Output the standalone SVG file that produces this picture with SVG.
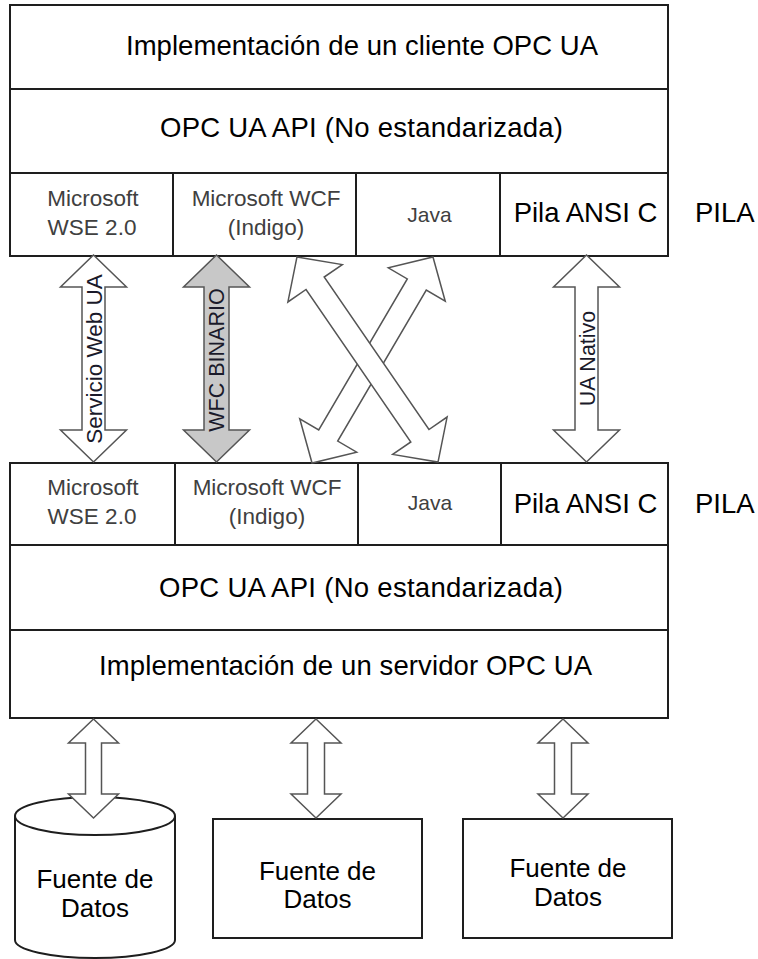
<svg xmlns="http://www.w3.org/2000/svg" width="758" height="959" viewBox="0 0 758 959">
<style>
.box{fill:#fff;stroke:#1e1e1e;stroke-width:2}
.ln{stroke:#1e1e1e;stroke-width:2;fill:none}
.big{font-family:"Liberation Sans",Arial,sans-serif;font-size:27.5px;fill:#000}
.sm{font-family:"Liberation Sans",Arial,sans-serif;font-size:22.5px;fill:#404040;text-anchor:middle}
.jv{font-family:"Liberation Sans",Arial,sans-serif;font-size:21px;fill:#404040;text-anchor:middle}
.mid{text-anchor:middle}
.arr{fill:#fff;stroke:#555;stroke-width:1.5;stroke-linejoin:miter}
.arrg{fill:#c8c8c8;stroke:#555;stroke-width:1.5}
.lbl{font-family:"Liberation Sans",Arial,sans-serif;font-size:21.5px;fill:#1a1a2a;text-anchor:middle}
.src{font-family:"Liberation Sans",Arial,sans-serif;font-size:26px;fill:#000;text-anchor:middle}
</style>
<rect width="758" height="959" fill="#fff"/>

<g id="client">
  <rect class="box" x="10" y="5" width="658" height="251"/>
  <line class="ln" x1="10" y1="89" x2="668" y2="89"/>
  <line class="ln" x1="10" y1="173" x2="668" y2="173"/>
  <line class="ln" x1="173" y1="173" x2="173" y2="256"/>
  <line class="ln" x1="356" y1="173" x2="356" y2="256"/>
  <line class="ln" x1="500" y1="173" x2="500" y2="256"/>
  <text class="big" x="126" y="55" textLength="472">Implementación de un cliente OPC UA</text>
  <text class="big" x="160" y="137" textLength="403">OPC UA API (No estandarizada)</text>
  <text class="sm" x="93" y="206">Microsoft</text>
  <text class="sm" x="92" y="235">WSE 2.0</text>
  <text class="sm" x="266" y="206">Microsoft WCF</text>
  <text class="sm" x="266" y="235">(Indigo)</text>
  <text class="jv" x="429.5" y="222">Java</text>
  <text class="big mid" x="585.5" y="222">Pila ANSI C</text>
  <text class="big" x="695" y="222">PILA</text>
</g>

<g id="server">
  <rect class="box" x="10" y="463" width="658" height="255"/>
  <line class="ln" x1="10" y1="545" x2="668" y2="545"/>
  <line class="ln" x1="10" y1="630" x2="668" y2="630"/>
  <line class="ln" x1="175" y1="463" x2="175" y2="545"/>
  <line class="ln" x1="358" y1="463" x2="358" y2="545"/>
  <line class="ln" x1="501" y1="463" x2="501" y2="545"/>
  <text class="sm" x="93" y="495">Microsoft</text>
  <text class="sm" x="92" y="524">WSE 2.0</text>
  <text class="sm" x="267" y="495">Microsoft WCF</text>
  <text class="sm" x="267" y="524">(Indigo)</text>
  <text class="jv" x="430" y="510">Java</text>
  <text class="big mid" x="585.5" y="513">Pila ANSI C</text>
  <text class="big" x="695" y="513">PILA</text>
  <text class="big" x="159" y="597" textLength="404">OPC UA API (No estandarizada)</text>
  <text class="big" x="99" y="675" textLength="493">Implementación de un servidor OPC UA</text>
</g>

<g id="fuente1">
  <path class="box" d="M15,816 L15,940 A80,18 0 0 0 175,940 L175,816"/>
  <ellipse class="box" cx="95" cy="816" rx="80" ry="19"/>
  <text class="src" x="95" y="888">Fuente de</text>
  <text class="src" x="95" y="917">Datos</text>
</g>

<g id="fuente2">
  <rect class="box" x="213" y="819" width="209" height="119"/>
  <text class="src" x="317.5" y="880">Fuente de</text>
  <text class="src" x="317.5" y="908">Datos</text>
</g>

<g id="fuente3">
  <rect class="box" x="463" y="819" width="209" height="119"/>
  <text class="src" x="568" y="877">Fuente de</text>
  <text class="src" x="568" y="906">Datos</text>
</g>

<g id="connectors">
  <path class="arr" d="M93.5,255 L126.5,287 L105,287 L105,430 L126.5,430 L93.5,462 L60.5,430 L82,430 L82,287 L60.5,287 Z"/>
  <text class="lbl" transform="translate(93.5,359) rotate(-90)" x="0" y="8" style="font-size:22.5px">Servicio Web UA</text>
  <path class="arrg" d="M216.5,255 L249.5,287 L229,287 L229,430 L249.5,430 L216.5,462 L183.5,430 L204,430 L204,287 L183.5,287 Z"/>
  <text class="lbl" transform="translate(216.5,360) rotate(-90)" x="0" y="7.5">WFC BINARIO</text>
  <path class="arr" d="M586.5,255 L619.5,287 L598,287 L598,430 L619.5,430 L586.5,462 L553.5,430 L575,430 L575,287 L553.5,287 Z"/>
  <text class="lbl" transform="translate(586.5,358.5) rotate(-90)" x="0" y="8">UA Nativo</text>

  <path class="arr" transform="translate(372.5,360) rotate(30.4)" d="M0,-119.5 L33,-87.5 L11,-87.5 L11,87.5 L33,87.5 L0,119.5 L-33,87.5 L-11,87.5 L-11,-87.5 L-33,-87.5 Z"/>
  <path class="arr" transform="translate(367.5,359.5) rotate(-34.5)" d="M0,-124.5 L33,-92.5 L11,-92.5 L11,92.5 L33,92.5 L0,124.5 L-33,92.5 L-11,92.5 L-11,-92.5 L-33,-92.5 Z"/>

  <path class="arr" d="M93.5,719 L118.5,743 L101.5,743 L101.5,794 L118.5,794 L93.5,818 L68.5,794 L85.5,794 L85.5,743 L68.5,743 Z"/>
  <path class="arr" d="M316,719 L341,743 L324.5,743 L324.5,794 L341,794 L316,818 L291,794 L307.5,794 L307.5,743 L291,743 Z"/>
  <path class="arr" d="M563,719 L588,743 L571.5,743 L571.5,794 L588,794 L563,818 L538,794 L554.5,794 L554.5,743 L538,743 Z"/>
</g>
</svg>
